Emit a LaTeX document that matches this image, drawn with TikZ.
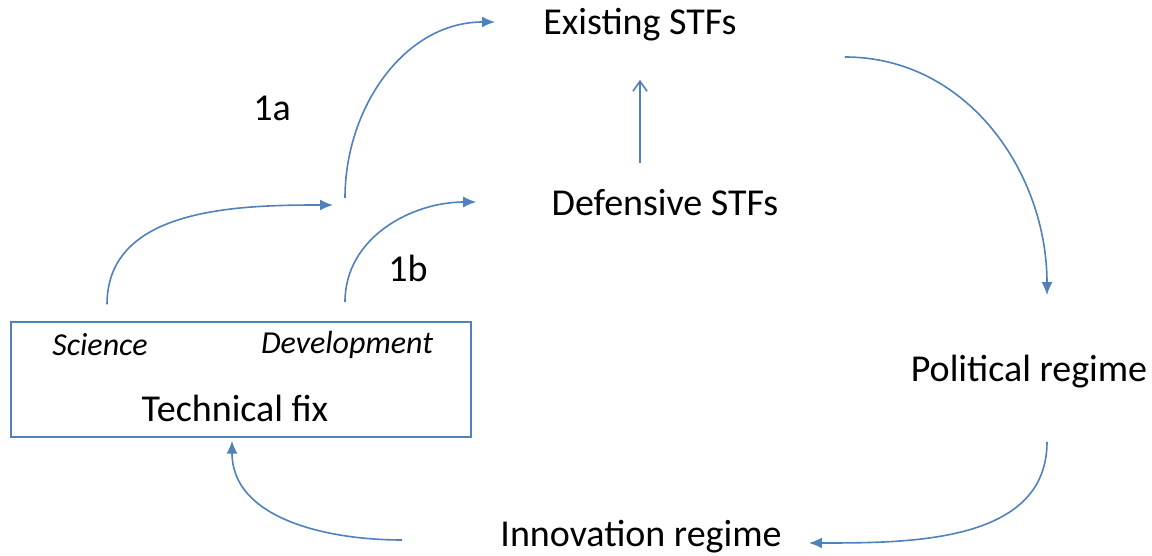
\documentclass[tikz,border=0pt]{standalone}
\usepackage{fontspec}
\setmainfont{Carlito}
\usetikzlibrary{arrows.meta}
\definecolor{linkblue}{RGB}{79,129,189}

\tikzset{
  flow/.style={draw=linkblue, line width=0.8pt, -{Latex[length=6.5pt,width=5.5pt]}},
  term/.style={font=\fontsize{19}{22}\selectfont, inner sep=0pt},
  subterm/.style={font=\fontsize{16}{19}\selectfont\itshape, inner sep=0pt},
}

\begin{document}
\begin{tikzpicture}[x=0.5pt,y=0.5pt]
    \useasboundingbox (0,0) rectangle (1152,556);
    % regimes and STFs
    \node[term] (exist) at (640,531) {Existing STFs};
    \node[term] (defend) at (665,353) {Defensive STFs};
    \node[term] (polit) at (1029,184) {Political regime};
    \node[term] (innov) at (641,19) {Innovation regime};
    % technical fix box
    \node[draw=linkblue, line width=0.7pt, minimum width=230pt, minimum height=57.5pt, inner sep=0pt] (fix) at (241,176.5) {};
    \node[subterm] (sci) at (100,211) {Science};
    \node[subterm] (dev) at (347,211) {Development};
    \node[term] (techfix) at (235,148) {Technical fix};
    \node[term] (onea) at (272,448) {1a};
    \node[term] (oneb) at (408,288) {1b};
    \coordinate (fork) at (339,354);
    % connectors
    \draw[flow] ([xshift=3.5pt,yshift=14.5pt]sci.north) to[out=90,in=180] ([xshift=-3pt,yshift=-1.5pt]fork);
    \draw[flow] ([xshift=3pt,yshift=2pt]fork) to[out=90,in=180] ([xshift=-24pt,yshift=1.5pt]exist.west);
    \draw[flow] ([xshift=-1pt,yshift=14.5pt]dev.north) to[out=90,in=180] ([xshift=-37.5pt,yshift=0.5pt]defend.west);
    \draw[flow, -{Straight Barb[length=5pt,width=7pt]}] ([xshift=-12.5pt,yshift=13pt]defend.north) -- ([xshift=0pt,yshift=-19pt]exist.south);
    \draw[flow] ([xshift=54pt,yshift=-16pt]exist.east) to[out=0,in=90] ([xshift=9pt,yshift=30pt]polit.north);
    \draw[flow] ([xshift=9pt,yshift=-26.5pt]polit.south) to[out=-90,in=0] ([xshift=13.5pt,yshift=-3pt]innov.east);
    \draw[flow] ([xshift=-49pt,yshift=-1.5pt]innov.west) to[out=180,in=-90] ([xshift=-4.5pt,yshift=-1.5pt]fix.south);
\end{tikzpicture}
\end{document}
